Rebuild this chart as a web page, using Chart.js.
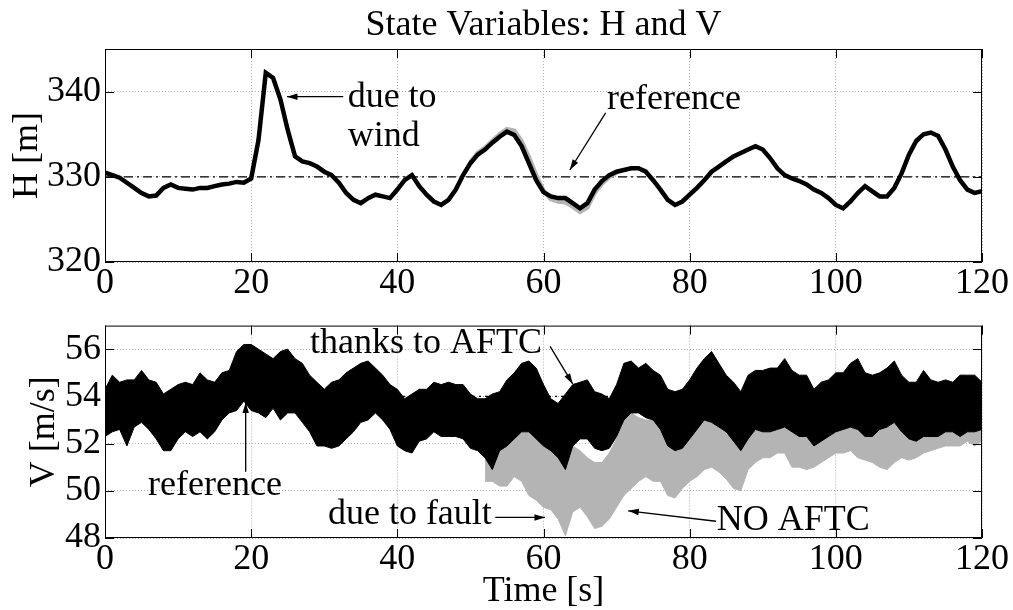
<!DOCTYPE html>
<html>
<head>
<script src="https://cdn.jsdelivr.net/npm/chart.js@4.4.0/dist/chart.umd.min.js"></script>
<style>
  body { margin: 0; background: #fff; }
  .wrap { position: relative; width: 1013px; height: 610px; }
  canvas { position: absolute; left: 0; }
</style>
</head>
<body>
<div class="wrap">
  <canvas id="hChart" width="1013" height="300" style="top:0"></canvas>
  <canvas id="vChart" width="1013" height="310" style="top:300px"></canvas>
</div>
<script>
// time grid (s), one sample per second
const time = Array.from({ length: 121 }, (_, i) => i);
const xTicks = [0, 20, 40, 60, 80, 100, 120];
const hTicks = [320, 330, 340];
const vTicks = [48, 50, 52, 54, 56];
const hRef = 330;
const vRef = 54;

// altitude H [m], with AFTC
const hAftc = [330.5, 330.2, 329.9, 329.3, 328.7, 328.1, 327.7, 327.8, 328.7, 329.1,
  328.7, 328.6, 328.5, 328.7, 328.7, 328.9, 329.1, 329.2, 329.4, 329.3,
  329.8, 334.3, 342.2, 341.6, 339.1, 335.5, 332.4, 331.8, 331.6, 331.2,
  330.6, 330.2, 329.3, 328.1, 327.3, 326.9, 327.5, 327.9, 327.7, 327.5,
  328.5, 329.6, 330.2, 328.9, 327.9, 327.1, 326.7, 327.3, 328.5, 330.2,
  331.6, 332.6, 333.2, 334.0, 334.7, 335.3, 334.9, 333.6, 331.6, 329.6,
  328.2, 327.7, 327.5, 327.5, 326.9, 326.3, 326.9, 328.5, 329.5, 330.2,
  330.6, 330.8, 331.0, 331.0, 330.6, 329.6, 328.5, 327.3, 326.7, 327.1,
  327.9, 328.7, 329.6, 330.6, 331.2, 331.8, 332.4, 332.8, 333.2, 333.6,
  333.2, 332.2, 331.0, 330.2, 329.8, 329.5, 329.1, 328.5, 328.1, 327.5,
  326.7, 326.3, 327.1, 328.1, 328.9, 328.3, 327.7, 327.7, 328.7, 330.4,
  332.6, 334.2, 335.0, 335.2, 334.8, 333.2, 331.2, 329.6, 328.5, 328.1, 328.3];

// altitude without AFTC, only where it shows apart (t = 50..70)
const hNoAftcTime = time.slice(50, 71);
const hNoAftc = [331.7, 332.8, 333.4, 334.2, 335.0, 335.6, 335.4, 334.2, 332.3, 330.2,
  328.4, 327.4, 327.1, 327.0, 326.5, 325.9, 326.4, 328.1, 329.2, 330.0, 330.5];

// airspeed V [m/s] with AFTC: upper / lower edge of the noisy trace
const vAftcHigh = [54.3, 54.9, 54.6, 54.7, 54.7, 55.1, 54.7, 54.6, 54.1, 54.3,
  54.5, 54.6, 54.5, 55.0, 54.7, 54.6, 55.0, 55.1, 55.9, 56.2,
  56.2, 56.0, 55.8, 55.6, 55.9, 56.0, 55.6, 55.4, 54.9, 54.6,
  54.3, 54.6, 54.7, 55.0, 55.2, 55.4, 55.5, 55.2, 54.9, 54.5,
  54.3, 53.9, 54.1, 54.3, 54.3, 54.6, 54.5, 54.6, 54.5, 54.5,
  54.1, 53.9, 53.9, 54.1, 54.2, 54.7, 55.0, 55.4, 55.5, 55.2,
  54.5, 53.9, 53.7, 54.1, 54.5, 54.6, 54.7, 54.2, 54.1, 53.9,
  54.5, 55.4, 55.5, 55.2, 55.4, 55.1, 54.9, 54.3, 54.2, 54.3,
  54.7, 55.2, 55.6, 55.9, 55.4, 54.9, 54.6, 54.2, 54.9, 55.1,
  55.1, 55.2, 55.2, 55.6, 55.1, 54.9, 54.9, 54.3, 54.6, 54.7,
  55.0, 55.0, 55.4, 55.6, 55.0, 54.9, 55.0, 55.2, 55.5, 54.9,
  54.6, 54.6, 55.1, 54.7, 54.6, 54.7, 54.6, 54.9, 54.9, 54.9, 54.6];
const vAftcLow = [52.3, 52.5, 52.6, 51.9, 52.7, 52.9, 52.6, 52.2, 51.7, 51.7,
  52.2, 52.5, 52.3, 52.5, 52.2, 52.5, 53.0, 53.3, 53.4, 53.8,
  53.4, 53.3, 53.1, 53.5, 53.0, 53.3, 53.3, 52.9, 52.5, 51.9,
  51.9, 51.8, 51.9, 52.2, 52.5, 52.9, 53.0, 53.3, 53.0, 52.6,
  51.9, 51.7, 51.6, 52.1, 52.2, 52.5, 52.3, 52.3, 52.3, 52.2,
  51.8, 51.7, 51.4, 50.9, 51.7, 51.9, 52.2, 52.5, 52.5, 52.2,
  51.9, 51.7, 51.4, 50.9, 51.9, 52.2, 52.2, 51.8, 51.7, 51.8,
  52.3, 53.0, 53.3, 53.3, 53.1, 53.0, 52.6, 51.9, 51.7, 51.8,
  52.2, 52.6, 53.0, 52.9, 52.7, 52.5, 52.1, 51.7, 52.2, 52.6,
  52.5, 52.5, 52.6, 52.7, 52.5, 52.3, 52.3, 51.9, 52.1, 52.3,
  52.5, 52.6, 52.7, 52.6, 52.3, 52.3, 52.6, 52.7, 52.9, 52.5,
  52.2, 52.1, 52.3, 52.3, 52.3, 52.5, 52.5, 52.3, 52.5, 52.5, 52.6];

// airspeed without AFTC, after the fault (t = 52..120)
const faultTime = time.slice(52);
const vNoAftcHigh = [52.1, 52.2, 51.9, 52.5, 52.9, 53.3, 53.4, 52.9,
  52.2, 51.7, 51.6, 51.7, 51.9, 51.7, 51.4, 51.2, 51.2, 51.6,
  52.2, 53.0, 53.3, 53.1, 53.0, 53.0, 52.7, 52.3, 51.8, 52.2,
  52.7, 53.3, 53.7, 53.4, 53.1, 52.7, 52.5, 52.2, 52.7, 53.1,
  53.3, 53.5, 53.4, 53.3, 53.1, 53.0, 53.0, 52.7, 52.7, 53.0,
  53.0, 53.1, 53.5, 53.7, 53.3, 53.0, 52.9, 53.0, 53.1, 53.3,
  53.0, 53.0, 53.3, 53.1, 53.0, 52.9, 52.9, 53.0, 52.9, 52.7, 52.9];
const vNoAftcLow = [50.4, 50.4, 50.2, 50.2, 50.6, 50.4, 49.8, 49.6,
  49.3, 49.2, 48.8, 48.1, 49.1, 49.3, 48.9, 48.4, 48.5, 48.8,
  49.3, 49.8, 50.1, 50.4, 50.6, 50.4, 50.4, 49.8, 49.7, 50.1,
  50.4, 50.6, 50.9, 51.0, 50.8, 50.5, 50.1, 50.0, 50.9, 51.2,
  51.4, 51.4, 51.6, 51.6, 51.0, 51.0, 50.9, 51.0, 51.2, 51.4,
  51.6, 51.6, 51.7, 51.4, 51.3, 51.2, 51.0, 50.9, 51.2, 51.4,
  51.3, 51.4, 51.6, 51.7, 51.8, 51.9, 51.9, 51.9, 52.1, 51.9, 52.1];

const FONT = '"Liberation Serif", "Times New Roman", serif';
const FS = 36;
const GRAY = '#b4b4b4';

const pts = (xs, ys) => ys.map((y, i) => ({ x: xs[i], y: y }));

// frame + inward matlab-style ticks
const framePlugin = {
  id: 'frame',
  afterDraw(chart) {
    const { ctx, chartArea: a, scales } = chart;
    ctx.save();
    ctx.strokeStyle = '#000';
    ctx.lineWidth = 1;
    ctx.strokeRect(a.left + 0.5, a.top + 0.5, a.right - a.left - 1, a.bottom - a.top - 1);
    const tl = 9;
    ctx.beginPath();
    scales.x.ticks.forEach(t => {
      const px = Math.round(scales.x.getPixelForValue(t.value)) + 0.5;
      ctx.moveTo(px, a.bottom); ctx.lineTo(px, a.bottom - tl);
      ctx.moveTo(px, a.top); ctx.lineTo(px, a.top + tl);
    });
    scales.y.ticks.forEach(t => {
      const py = Math.round(scales.y.getPixelForValue(t.value)) + 0.5;
      ctx.moveTo(a.left, py); ctx.lineTo(a.left + tl, py);
      ctx.moveTo(a.right, py); ctx.lineTo(a.right - tl, py);
    });
    ctx.stroke();
    ctx.restore();
  }
};

// heading, text labels and arrows (labels placed in data units)
const notesPlugin = {
  id: 'notes',
  afterDraw(chart, args, opts) {
    const { ctx, chartArea: a, scales: { x, y } } = chart;
    ctx.save();
    ctx.font = FS + 'px ' + FONT;
    ctx.fillStyle = '#000';
    ctx.strokeStyle = '#000';
    ctx.lineWidth = 1.3;
    ctx.textBaseline = 'alphabetic';
    if (opts.heading) {
      ctx.textAlign = 'center';
      ctx.fillText(opts.heading, (a.left + a.right) / 2, a.top - 14);
    }
    ctx.textAlign = 'left';
    (opts.texts || []).forEach(t => {
      ctx.fillText(t.text, x.getPixelForValue(t.x), y.getPixelForValue(t.y));
    });
    (opts.arrows || []).forEach(r => {
      const x1 = x.getPixelForValue(r.x1), y1 = y.getPixelForValue(r.y1);
      const x2 = x.getPixelForValue(r.x2), y2 = y.getPixelForValue(r.y2);
      const ang = Math.atan2(y2 - y1, x2 - x1);
      ctx.beginPath();
      ctx.moveTo(x1, y1); ctx.lineTo(x2, y2);
      ctx.stroke();
      ctx.beginPath();
      ctx.moveTo(x2, y2);
      ctx.lineTo(x2 - 11 * Math.cos(ang - 0.3), y2 - 11 * Math.sin(ang - 0.3));
      ctx.lineTo(x2 - 11 * Math.cos(ang + 0.3), y2 - 11 * Math.sin(ang + 0.3));
      ctx.closePath();
      ctx.fill();
    });
    ctx.restore();
  }
};

function xAxis(height, withTitle) {
  return {
    type: 'linear', min: 0, max: 120,
    afterBuildTicks: s => { s.ticks = xTicks.map(v => ({ value: v })); },
    afterFit: s => { s.height = height; },
    ticks: { autoSkip: false, maxRotation: 0, padding: 0, color: '#000', font: { family: FONT, size: FS } },
    grid: { color: '#b0b0b0', lineWidth: 1, drawTicks: false },
    border: { display: false, dash: [1, 2] },
    title: withTitle ? { display: true, text: 'Time [s]', color: '#000', font: { family: FONT, size: FS, lineHeight: 1 }, padding: { top: 0, bottom: 0 } } : { display: false }
  };
}

function yAxis(min, max, tickVals, label, titlePad) {
  return {
    type: 'linear', min: min, max: max,
    afterBuildTicks: s => { s.ticks = tickVals.map(v => ({ value: v })); },
    afterFit: s => { s.width = 105; },
    ticks: { autoSkip: false, padding: 4, color: '#000', font: { family: FONT, size: FS } },
    grid: { color: '#b0b0b0', lineWidth: 1, drawTicks: false },
    border: { display: false, dash: [1, 2] },
    title: { display: true, text: label, color: '#000', font: { family: FONT, size: FS, lineHeight: 1 }, padding: { top: titlePad, bottom: 0 } }
  };
}

const common = {
  responsive: false,
  animation: false,
  events: [],
  elements: { point: { radius: 0 }, line: { tension: 0 } }
};

new Chart(document.getElementById('hChart'), {
  type: 'line',
  data: {
    datasets: [
      { data: pts(time, hAftc), borderColor: '#000', borderWidth: 4.5 },
      { data: pts(hNoAftcTime, hNoAftc), borderColor: GRAY, borderWidth: 4.5 },
      { data: [{ x: 0, y: hRef }, { x: 120, y: hRef }], borderColor: '#000', borderWidth: 1.2, borderDash: [9, 4, 2, 4] }
    ]
  },
  options: Object.assign({}, common, {
    layout: { autoPadding: false, padding: { left: 0, right: 31, top: 49, bottom: 0 } },
    scales: { x: xAxis(38, false), y: yAxis(320, 345, hTicks, 'H [m]', 10) },
    plugins: {
      legend: { display: false }, tooltip: { enabled: false },
      notes: {
        heading: 'State Variables: H and V',
        texts: [
          { text: 'due to', x: 33.2, y: 338.2 },
          { text: 'wind', x: 33.2, y: 333.6 },
          { text: 'reference', x: 68.7, y: 337.9 }
        ],
        arrows: [
          { x1: 32.6, y1: 339.4, x2: 24.9, y2: 339.4 },
          { x1: 68.5, y1: 337.5, x2: 63.6, y2: 330.8 }
        ]
      }
    }
  }),
  plugins: [framePlugin, notesPlugin]
});

new Chart(document.getElementById('vChart'), {
  type: 'line',
  data: {
    datasets: [
      { data: pts(time, vAftcHigh), borderColor: '#000', borderWidth: 1 },
      { data: pts(time, vAftcLow), borderColor: '#000', borderWidth: 1, backgroundColor: '#000', fill: '-1' },
      { data: pts(faultTime, vNoAftcHigh), borderColor: GRAY, borderWidth: 1 },
      { data: pts(faultTime, vNoAftcLow), borderColor: GRAY, borderWidth: 1, backgroundColor: GRAY, fill: '-1' },
      { data: [{ x: 0, y: vRef }, { x: 120, y: vRef }], borderColor: '#000', borderWidth: 1.2, borderDash: [9, 4, 2, 4] }
    ]
  },
  options: Object.assign({}, common, {
    layout: { autoPadding: false, padding: { left: 0, right: 31, top: 11, bottom: 0 } },
    scales: { x: xAxis(72, true), y: yAxis(48, 57, vTicks, 'V [m/s]', 27) },
    plugins: {
      legend: { display: false }, tooltip: { enabled: false },
      notes: {
        texts: [
          { text: 'thanks to AFTC', x: 28.05, y: 55.84 },
          { text: 'reference', x: 5.9, y: 49.83 },
          { text: 'due to fault', x: 30.5, y: 48.6 },
          { text: 'NO AFTC', x: 83.7, y: 48.34 }
        ],
        arrows: [
          { x1: 60.9, y1: 56.12, x2: 64.0, y2: 54.53 },
          { x1: 19.25, y1: 50.81, x2: 19.25, y2: 53.74 },
          { x1: 53.4, y1: 48.87, x2: 60.2, y2: 48.87 },
          { x1: 83.6, y1: 48.71, x2: 71.6, y2: 49.15 }
        ]
      }
    }
  }),
  plugins: [framePlugin, notesPlugin]
});
</script>
</body>
</html>
